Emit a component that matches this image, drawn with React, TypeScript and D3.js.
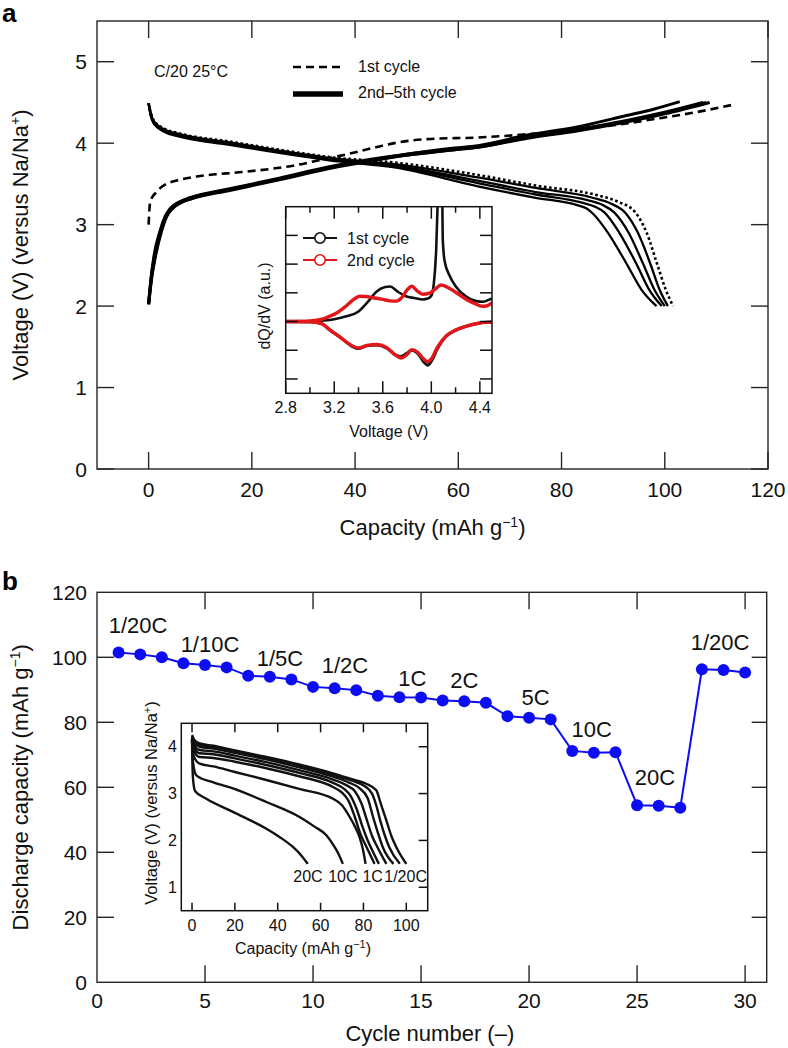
import * as d3 from "d3";

const FONT = "'Liberation Sans', Arial, Helvetica, sans-serif";

// ---------- panel a: charge / discharge profiles (capacity mAh/g, voltage V)
const charge1st = [[0,3.0],[0.3,3.28],[1.5,3.4],[2.9,3.48],[6,3.55],[9.3,3.59],[18.9,3.65],[28.5,3.73],[33,3.79],[38.8,3.87],[44,3.95],[48.4,4.01],[54,4.05],[63.8,4.07],[73.4,4.11],[83,4.17],[90,4.22],[98.4,4.3],[106,4.38],[113.8,4.48]];
const charge2nd = [[0,2.03],[0.5,2.35],[1,2.6],[2.25,2.93],[3.2,3.1],[4.2,3.2],[6,3.28],[8,3.33],[15.7,3.44],[25.3,3.57],[35,3.71],[42,3.79],[48.4,3.85],[59.3,3.94],[63.8,3.97],[73.4,4.1],[83,4.2],[92.6,4.34],[98,4.42],[102.9,4.51]];
const charge3rd = [[0,2.03],[0.5,2.36],[1.1,2.6],[2.35,2.93],[3.3,3.1],[4.3,3.2],[6.1,3.28],[8.2,3.33],[15.7,3.43],[25.3,3.56],[35,3.7],[42,3.78],[48.4,3.85],[59.3,3.93],[63.8,3.96],[73.4,4.08],[83,4.17],[92.6,4.28],[100,4.38],[107.4,4.5]];
const charge4th = [[0,2.02],[0.6,2.36],[1.2,2.6],[2.45,2.93],[3.4,3.1],[4.4,3.19],[6.2,3.27],[8.3,3.32],[15.7,3.43],[25.3,3.56],[35,3.7],[42,3.78],[48.4,3.84],[59.3,3.92],[63.8,3.95],[73.4,4.07],[83,4.16],[92.6,4.27],[100,4.37],[108,4.5]];
const charge5th = [[0,2.02],[0.6,2.35],[1.3,2.6],[2.55,2.93],[3.5,3.1],[4.5,3.19],[6.3,3.27],[8.4,3.32],[15.7,3.42],[25.3,3.55],[35,3.69],[42,3.77],[48.4,3.84],[59.3,3.92],[63.8,3.95],[73.4,4.06],[83,4.15],[92.6,4.26],[100,4.36],[108.7,4.5]];

const discharge1st = [[0,4.49],[0.4,4.38],[1,4.28],[3,4.18],[6,4.12],[15.7,4.02],[25.3,3.92],[35,3.83],[48,3.76],[63.8,3.61],[75,3.48],[87,3.36],[91,3.28],[94.3,3.15],[96.5,2.9],[98.5,2.52],[100.2,2.2],[101.6,2.0]];
const discharge2nd = [[0,4.49],[0.4,4.37],[1,4.27],[3,4.17],[6,4.11],[15.7,4.01],[25.3,3.91],[35,3.82],[48,3.74],[63.8,3.58],[75,3.45],[86,3.33],[89.5,3.26],[92.3,3.15],[94.8,2.9],[97.2,2.52],[99,2.2],[100.6,2.0]];
const discharge3rd = [[0,4.49],[0.4,4.36],[1,4.26],[3,4.16],[6,4.1],[15.7,4.0],[25.3,3.9],[35,3.81],[48,3.72],[63.8,3.54],[75,3.4],[85,3.3],[88,3.24],[90.2,3.15],[93,2.9],[95.8,2.52],[98,2.2],[100,2.0]];
const discharge4th = [[0,4.49],[0.4,4.35],[1,4.25],[3,4.15],[6,4.09],[15.7,3.99],[25.3,3.89],[35,3.8],[48,3.71],[63.8,3.51],[75,3.37],[84,3.27],[86.5,3.22],[88.3,3.15],[91.2,2.9],[94.5,2.52],[97,2.2],[99.4,2.0]];
const discharge5th = [[0,4.49],[0.4,4.34],[1,4.24],[3,4.14],[6,4.08],[15.7,3.98],[25.3,3.88],[35,3.79],[48,3.7],[63.8,3.47],[75,3.33],[83,3.24],[84.8,3.2],[86,3.14],[89,2.9],[92.6,2.52],[95.5,2.2],[98.4,2.0]];

const aXTicks = [0, 20, 40, 60, 80, 100, 120];
const aYTicks = [0, 1, 2, 3, 4, 5];

// ---------- panel a inset: dQ/dV (voltage V, a.u.)
const dqCharge1st = [[2.8,0],[3.0,0.0],[3.1,0.03],[3.2,0.08],[3.3,0.18],[3.4,0.35],[3.48,0.7],[3.55,1.05],[3.62,1.2],[3.66,1.22],[3.72,1.05],[3.79,0.88],[3.86,0.82],[3.93,0.77],[3.97,0.8],[4.0,0.9],[4.02,1.3],[4.04,2.5],[4.055,4.5],[4.07,6],[4.085,6],[4.095,2.8],[4.11,2.1],[4.15,1.6],[4.2,1.23],[4.29,0.86],[4.37,0.71],[4.43,0.69],[4.48,0.77],[4.5,0.8]];
const dqCharge2nd = [[2.8,0],[3.0,0.02],[3.1,0.08],[3.16,0.18],[3.22,0.3],[3.3,0.55],[3.37,0.8],[3.41,0.88],[3.46,0.87],[3.52,0.83],[3.6,0.77],[3.66,0.72],[3.71,0.71],[3.76,0.85],[3.8,1.1],[3.84,1.23],[3.88,1.08],[3.93,0.95],[3.98,0.98],[4.03,1.12],[4.08,1.27],[4.13,1.2],[4.2,1.02],[4.29,0.77],[4.36,0.62],[4.42,0.53],[4.46,0.55],[4.5,0.65]];
const dqDischarge1st = [[2.8,0],[3.0,-0.01],[3.1,-0.08],[3.16,-0.28],[3.25,-0.55],[3.33,-0.82],[3.4,-0.94],[3.47,-0.84],[3.55,-0.82],[3.63,-0.92],[3.7,-1.15],[3.75,-1.22],[3.8,-1.1],[3.84,-1.0],[3.89,-1.12],[3.94,-1.42],[3.97,-1.52],[4.0,-1.38],[4.05,-0.95],[4.12,-0.52],[4.2,-0.3],[4.29,-0.16],[4.4,-0.05],[4.5,-0.02]];
const dqDischarge2nd = [[2.8,0],[3.0,-0.01],[3.1,-0.08],[3.16,-0.28],[3.25,-0.55],[3.33,-0.8],[3.4,-0.92],[3.47,-0.83],[3.55,-0.8],[3.63,-0.9],[3.7,-1.15],[3.75,-1.27],[3.8,-1.15],[3.84,-0.98],[3.89,-1.08],[3.94,-1.32],[3.97,-1.4],[4.0,-1.3],[4.05,-0.9],[4.12,-0.51],[4.2,-0.3],[4.29,-0.16],[4.4,-0.05],[4.5,-0.02]];

const insetAXMajor = [2.8, 3.2, 3.6, 4.0, 4.4];
const insetAXMinor = [3.0, 3.4, 3.8, 4.2];
const insetAYTicks = [-2, -1, 0, 1, 2, 3];

// ---------- panel b: rate capability
const cycles = [1,2,3,4,5,6,7,8,9,10,11,12,13,14,15,16,17,18,19,20,21,22,23,24,25,26,27,28,29,30];
const dischargeCap = [101.5,100.9,100.0,98.2,97.6,96.9,94.3,94.0,93.2,90.9,90.5,89.9,88.2,87.7,87.6,86.7,86.5,86.0,81.9,81.4,80.9,71.2,70.6,70.8,54.5,54.3,53.7,96.3,96.1,95.3];
const rateLabels = ["1/20C","1/10C","1/5C","1/2C","1C","2C","5C","10C","20C","1/20C"];
const rateLabelCycle = [1.9, 5.23, 8.47, 11.48, 14.6, 17.0, 20.3, 22.9, 25.83, 28.84];
const rateLabelCap = [107.6, 101.7, 97.3, 95.3, 91.3, 90.6, 85.3, 75.5, 60.7, 102.2];

const bXTicks = [0, 5, 10, 15, 20, 25, 30];
const bYTicks = [0, 20, 40, 60, 80, 100, 120];

// ---------- panel b inset: discharge curves at each rate
const rate1_20 = [[0,4.25],[1,4.15],[3.6,4.07],[10,4.02],[20,3.92],[34.7,3.78],[50,3.62],[65.8,3.43],[75,3.3],[81.3,3.21],[86,3.07],[88,2.8],[90.7,2.43],[93,2.1],[95.3,1.86],[100,1.5]];
const rate1_10 = [[0,4.23],[1,4.12],[3.6,4.04],[10,4.0],[20,3.9],[34.7,3.76],[50,3.6],[65.8,3.4],[75,3.27],[79,3.2],[84,3.0],[86,2.75],[88,2.4],[92,1.86],[97,1.5]];
const rate1_5 = [[0,4.21],[1,4.08],[3.6,4.0],[10,3.96],[20,3.87],[34.7,3.73],[50,3.56],[65.8,3.36],[73,3.24],[78,3.12],[82,2.9],[84.5,2.5],[86.5,2.2],[89,1.86],[94,1.5]];
const rate1_2 = [[0,4.19],[1,4.03],[3.6,3.93],[10,3.9],[20,3.81],[34.7,3.67],[50,3.5],[65.8,3.3],[72,3.18],[76,3.05],[79,2.8],[81.5,2.45],[84,2.1],[86.5,1.86],[90.7,1.5]];
const rate1C = [[0,4.18],[1,3.97],[3.6,3.86],[10,3.84],[20,3.75],[34.7,3.61],[50,3.44],[65.8,3.23],[71,3.1],[74,2.95],[77,2.65],[79.5,2.3],[82,2.0],[84,1.8],[87.2,1.5]];
const rate2C = [[0,4.16],[1,3.9],[3.6,3.78],[10,3.76],[20,3.68],[34.7,3.54],[50,3.37],[65.8,3.14],[70,3.02],[73,2.85],[76,2.5],[78.5,2.15],[81,1.9],[85.2,1.5]];
const rate5C = [[0,4.15],[0.8,3.8],[3.6,3.64],[10,3.58],[20,3.46],[34.7,3.29],[50,3.1],[65.8,2.89],[70,2.75],[73.6,2.5],[76,2.3],[78.2,2.07],[79.8,1.8],[81,1.5]];
const rate10C = [[0,4.15],[0.4,3.7],[2,3.39],[10,3.24],[19.1,3.11],[34.7,2.82],[50.2,2.5],[57,2.3],[62.7,2.11],[66,1.9],[68.5,1.7],[70.4,1.5]];
const rate20C = [[0,4.15],[0.2,3.6],[0.6,3.25],[1.5,3.05],[6.7,2.89],[19.1,2.61],[34.7,2.25],[41,2.07],[47.1,1.86],[51,1.68],[54,1.5]];
const rateCurves = [rate1_20, rate1_10, rate1_5, rate1_2, rate1C, rate2C, rate5C, rate10C, rate20C];
const insetLabels = ["20C", "10C", "1C", "1/20C"];
const insetLabelCap = [54.1, 70.4, 84.3, 99.7];
const insetLabelV = 1.11;

const insetBXTicks = [0, 20, 40, 60, 80, 100];
const insetBYTicks = [1, 2, 3, 4];

const BLUE = "#0d0df2";
const RED = "#e3171b";
const AX = "#262626";

export default function App() {
  // panel a
  const ax = d3.scaleLinear().domain([-10, 120]).range([97, 768]);
  const ay = d3.scaleLinear().domain([0, 5.5]).range([469, 21]);
  const aLine = d3.line().x((d) => ax(d[0])).y((d) => ay(d[1])).curve(d3.curveMonotoneX);

  // panel a inset
  const ix = d3.scaleLinear().domain([2.8, 4.5]).range([285.7, 492]);
  const iy = d3.scaleLinear().domain([-2.5, 4.0]).range([393.3, 206.7]);
  const iLine = d3.line().x((d) => ix(d[0])).y((d) => iy(d[1])).curve(d3.curveMonotoneX);

  // panel b
  const bx = d3.scaleLinear().domain([0, 31]).range([97, 766.7]);
  const by = d3.scaleLinear().domain([0, 120]).range([982.3, 592.3]);
  const bLine = d3.line().x((d, i) => bx(cycles[i])).y((d) => by(d));

  // panel b inset
  const jx = d3.scaleLinear().domain([-5, 110]).range([181.3, 427.7]);
  const jy = d3.scaleLinear().domain([0.5, 4.5]).range([910.7, 723.3]);
  const jLine = d3.line().x((d) => jx(d[0])).y((d) => jy(d[1])).curve(d3.curveMonotoneX);

  const [ax0, ax1] = ax.range();
  const [ay0, ay1] = ay.range();
  const [ix0, ix1] = ix.range();
  const [iy0, iy1] = iy.range();
  const [bx0, bx1] = bx.range();
  const [by0, by1] = by.range();
  const [jx0, jx1] = jx.range();
  const [jy0, jy1] = jy.range();
  const T = 17;

  return (
    <svg width={788} height={1048} style={{ position: "absolute", left: 0, top: 0, background: "#fff" }} fontFamily={FONT}>
      <rect width={788} height={1048} fill="#fff" />
      <defs>
        <clipPath id="clipA"><rect x={ax0} y={ay1} width={ax1 - ax0} height={ay0 - ay1} /></clipPath>
        <clipPath id="clipI"><rect x={ix0} y={iy1} width={ix1 - ix0} height={iy0 - iy1} /></clipPath>
      </defs>

      {/* ================= panel a ================= */}
      <text x={2} y={22} fontSize={26} fontWeight="bold">a</text>
      <g stroke={AX} strokeWidth={1.4}>
        <rect x={ax0} y={ay1} width={ax1 - ax0} height={ay0 - ay1} fill="none" />
        {aXTicks.map((t) => (
          <g key={"ax" + t}>
            <line x1={ax(t)} x2={ax(t)} y1={ay0} y2={ay0 - T} />
            <line x1={ax(t)} x2={ax(t)} y1={ay1} y2={ay1 + T} />
          </g>
        ))}
        {aYTicks.map((t) => (
          <g key={"ay" + t}>
            <line x1={ax0} x2={ax0 + T} y1={ay(t)} y2={ay(t)} />
            <line x1={ax1} x2={ax1 - T} y1={ay(t)} y2={ay(t)} />
          </g>
        ))}
      </g>
      {aXTicks.map((t) => (
        <text key={"axl" + t} x={ax(t)} y={497} fontSize={21} textAnchor="middle" fill="#111">{t}</text>
      ))}
      {aYTicks.map((t) => (
        <text key={"ayl" + t} x={87} y={ay(t) + 7.5} fontSize={21} textAnchor="end" fill="#111">{t}</text>
      ))}
      <text x={(ax0 + ax1) / 2} y={535} fontSize={22} textAnchor="middle" fill="#111">
        Capacity (mAh g<tspan dy={-8} fontSize={14}>−1</tspan><tspan dy={8}>)</tspan>
      </text>
      <text transform={`translate(28,${(ay0 + ay1) / 2}) rotate(-90)`} fontSize={22} textAnchor="middle" fill="#111">
        Voltage (V) (versus Na/Na<tspan dy={-8} fontSize={14}>+</tspan><tspan dy={8}>)</tspan>
      </text>

      <g clipPath="url(#clipA)" fill="none" stroke="#000">
        {[discharge2nd, discharge3rd, discharge4th, discharge5th].map((d, i) => (
          <path key={"dis" + i} d={aLine(d) || ""} strokeWidth={2.3} />
        ))}
        <path d={aLine(discharge1st) || ""} strokeWidth={2.6} strokeDasharray="2.6,2.6" />
        {[charge2nd, charge3rd, charge4th, charge5th].map((d, i) => (
          <path key={"ch" + i} d={aLine(d) || ""} strokeWidth={3} />
        ))}
        <path d={aLine(charge1st) || ""} strokeWidth={2.6} strokeDasharray="8,5" />
      </g>

      {/* legend */}
      <text x={154} y={77} fontSize={16} fill="#111">C/20 25°C</text>
      <line x1={293} x2={343} y1={67} y2={67} stroke="#000" strokeWidth={2.6} strokeDasharray="8,5" />
      <text x={358} y={72} fontSize={16} fill="#111">1st cycle</text>
      <line x1={293} x2={343} y1={94} y2={94} stroke="#000" strokeWidth={5.5} />
      <text x={358} y={98} fontSize={16} fill="#111">2nd–5th cycle</text>

      {/* inset a */}
      <rect x={ix0} y={iy1} width={ix1 - ix0} height={iy0 - iy1} fill="#fff" />
      <g clipPath="url(#clipI)" fill="none">
        <path d={iLine(dqCharge1st) || ""} stroke="#111" strokeWidth={2.6} />
        <path d={iLine(dqDischarge1st) || ""} stroke="#111" strokeWidth={3} />
        <path d={iLine(dqCharge2nd) || ""} stroke={RED} strokeWidth={3.4} />
        <path d={iLine(dqDischarge2nd) || ""} stroke={RED} strokeWidth={3.4} />
      </g>
      <g stroke="#111" strokeWidth={1.5}>
        <rect x={ix0} y={iy1} width={ix1 - ix0} height={iy0 - iy1} fill="none" />
        {insetAXMajor.map((t) => (
          <g key={"ixM" + t}>
            <line x1={ix(t)} x2={ix(t)} y1={iy0} y2={iy0 - 12} />
            <line x1={ix(t)} x2={ix(t)} y1={iy1} y2={iy1 + 12} />
          </g>
        ))}
        {insetAXMinor.map((t) => (
          <g key={"ixm" + t}>
            <line x1={ix(t)} x2={ix(t)} y1={iy0} y2={iy0 - 6} />
            <line x1={ix(t)} x2={ix(t)} y1={iy1} y2={iy1 + 6} />
          </g>
        ))}
        {insetAYTicks.map((t) => (
          <g key={"iy" + t}>
            <line x1={ix0} x2={ix0 + 12} y1={iy(t)} y2={iy(t)} />
            <line x1={ix1} x2={ix1 - 12} y1={iy(t)} y2={iy(t)} />
          </g>
        ))}
      </g>
      {insetAXMajor.map((t) => (
        <text key={"ixl" + t} x={ix(t)} y={413} fontSize={16} textAnchor="middle" fill="#111">{t.toFixed(1)}</text>
      ))}
      <text x={(ix0 + ix1) / 2} y={437} fontSize={16} textAnchor="middle" fill="#111">Voltage (V)</text>
      <text transform={`translate(270,${(iy0 + iy1) / 2 + 6}) rotate(-90)`} fontSize={16} textAnchor="middle" fill="#111">dQ/dV (a.u.)</text>
      {/* inset legend */}
      <line x1={303} x2={337} y1={238} y2={238} stroke="#111" strokeWidth={1.8} />
      <circle cx={320} cy={238} r={5.2} fill="#fff" stroke="#111" strokeWidth={1.6} />
      <text x={347} y={243.5} fontSize={16} fill="#111">1st cycle</text>
      <line x1={303} x2={337} y1={260} y2={260} stroke={RED} strokeWidth={1.8} />
      <circle cx={320} cy={260} r={5.2} fill="#fff" stroke={RED} strokeWidth={1.6} />
      <text x={347} y={265.5} fontSize={16} fill="#111">2nd cycle</text>

      {/* ================= panel b ================= */}
      <text x={2} y={590} fontSize={26} fontWeight="bold">b</text>
      <g stroke={AX} strokeWidth={1.4}>
        <rect x={bx0} y={by1} width={bx1 - bx0} height={by0 - by1} fill="none" />
        {bXTicks.filter((t) => t > 0).map((t) => (
          <g key={"bx" + t}>
            <line x1={bx(t)} x2={bx(t)} y1={by0} y2={by0 - T} />
            <line x1={bx(t)} x2={bx(t)} y1={by1} y2={by1 + T} />
          </g>
        ))}
        {bYTicks.filter((t) => t > 0 && t < 120).map((t) => (
          <g key={"by" + t}>
            <line x1={bx0} x2={bx0 + T} y1={by(t)} y2={by(t)} />
            <line x1={bx1} x2={bx1 - 15} y1={by(t)} y2={by(t)} />
          </g>
        ))}
      </g>
      {bXTicks.map((t) => (
        <text key={"bxl" + t} x={bx(t)} y={1008} fontSize={21} textAnchor="middle" fill="#111">{t}</text>
      ))}
      {bYTicks.map((t) => (
        <text key={"byl" + t} x={87} y={by(t) + 7.5} fontSize={21} textAnchor="end" fill="#111">{t}</text>
      ))}
      <text x={(bx0 + bx1) / 2 - 2} y={1041} fontSize={22} textAnchor="middle" fill="#111">Cycle number (–)</text>
      <text transform={`translate(28,${(by0 + by1) / 2}) rotate(-90)`} fontSize={22} textAnchor="middle" fill="#111">
        Discharge capacity (mAh g<tspan dy={-8} fontSize={14}>−1</tspan><tspan dy={8}>)</tspan>
      </text>

      <path d={bLine(dischargeCap) || ""} fill="none" stroke={BLUE} strokeWidth={2} />
      {dischargeCap.map((v, i) => (
        <circle key={"pt" + i} cx={bx(cycles[i])} cy={by(v)} r={6} fill={BLUE} />
      ))}
      {rateLabels.map((l, i) => (
        <text key={"rl" + i} x={bx(rateLabelCycle[i])} y={by(rateLabelCap[i])} fontSize={22} textAnchor="middle" fill="#111">{l}</text>
      ))}

      {/* inset b */}
      <rect x={jx0} y={jy1} width={jx1 - jx0} height={jy0 - jy1} fill="#fff" stroke="#111" strokeWidth={1.5} />
      <g fill="none" stroke="#111" strokeWidth={2.4}>
        {rateCurves.map((d, i) => (
          <path key={"rc" + i} d={jLine(d) || ""} />
        ))}
      </g>
      <g stroke="#111" strokeWidth={1.5}>
        {insetBXTicks.map((t) => (
          <g key={"jx" + t}>
            <line x1={jx(t)} x2={jx(t)} y1={jy0} y2={jy0 - 8} />
            <line x1={jx(t)} x2={jx(t)} y1={jy1} y2={jy1 + 9} />
          </g>
        ))}
        {insetBYTicks.map((t) => (
          <line key={"jy" + t} x1={jx1} x2={jx1 - 9} y1={jy(t)} y2={jy(t)} />
        ))}
      </g>
      {insetBXTicks.map((t) => (
        <text key={"jxl" + t} x={jx(t)} y={931} fontSize={16} textAnchor="middle" fill="#111">{t}</text>
      ))}
      {insetBYTicks.map((t) => (
        <text key={"jyl" + t} x={177} y={jy(t) + 5.5} fontSize={16} textAnchor="end" fill="#111">{t}</text>
      ))}
      {insetLabels.map((l, i) => (
        <text key={"il" + i} x={jx(insetLabelCap[i])} y={jy(insetLabelV)} fontSize={16} textAnchor="middle" fill="#111">{l}</text>
      ))}
      <text x={303} y={954} fontSize={16} textAnchor="middle" fill="#111">
        Capacity (mAh g<tspan dy={-6} fontSize={11}>−1</tspan><tspan dy={6}>)</tspan>
      </text>
      <text transform={`translate(157,803) rotate(-90)`} fontSize={16.5} textAnchor="middle" fill="#111">
        Voltage (V) (versus Na/Na<tspan dy={-6} fontSize={11}>+</tspan><tspan dy={6}>)</tspan>
      </text>
    </svg>
  );
}
